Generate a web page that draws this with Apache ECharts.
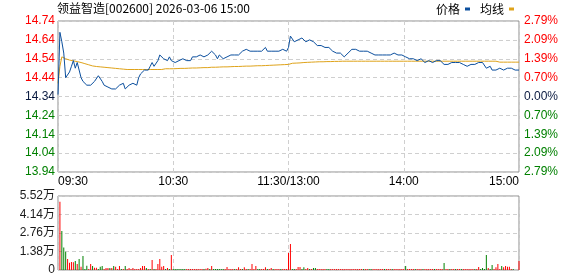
<!DOCTYPE html>
<html><head><meta charset="utf-8">
<script src="https://cdn.jsdelivr.net/npm/echarts@6/dist/echarts.min.js"></script>
<style>html,body{margin:0;padding:0;background:#fff}#c{width:578px;height:276px}</style>
</head><body><div id="c"></div>
<script>
const titleText = '领益智造[002600] 2026-03-06 15:00';
const seriesNames = ['价格', '均线'];
const timeLabels = ['09:30', '10:30', '11:30/13:00', '14:00', '15:00'];
const priceTicks = ['13.94', '14.04', '14.14', '14.24', '14.34', '14.44', '14.54', '14.64', '14.74'];
const pctTicks = ['2.79%', '2.09%', '1.39%', '0.70%', '0.00%', '0.70%', '1.39%', '2.09%', '2.79%'];
const volTicks = ['0', '1.38万', '2.76万', '4.14万', '5.52万'];
const prevClose = 14.34;

// price per minute (0 = 09:30, 120 = 11:30/13:00, 240 = 15:00)
const price = [
14.35,14.68,14.63,14.57,14.44,14.43,14.47,14.50,14.53,14.49,
14.52,14.52,14.44,14.42,14.41,14.40,14.41,14.40,14.40,14.42,
14.43,14.45,14.44,14.42,14.40,14.40,14.39,14.38,14.38,14.37,
14.38,14.38,14.40,14.39,14.41,14.38,14.39,14.40,14.40,14.41,
14.40,14.40,14.44,14.46,14.47,14.48,14.49,14.48,14.50,14.52,
14.50,14.50,14.53,14.56,14.56,14.54,14.54,14.53,14.55,14.53,
14.54,14.52,14.53,14.53,14.53,14.54,14.53,14.53,14.53,14.53,
14.55,14.54,14.55,14.56,14.56,14.56,14.55,14.56,14.56,14.57,
14.58,14.57,14.56,14.54,14.56,14.56,14.54,14.53,14.55,14.55,
14.56,14.57,14.56,14.56,14.56,14.56,14.58,14.59,14.59,14.58,
14.58,14.59,14.58,14.58,14.58,14.57,14.58,14.59,14.60,14.58,
14.58,14.58,14.59,14.58,14.57,14.58,14.59,14.59,14.58,14.58,
14.60,14.66,14.65,14.63,14.63,14.64,14.65,14.65,14.64,14.63,
14.62,14.64,14.64,14.63,14.62,14.61,14.61,14.61,14.60,14.60,
14.60,14.60,14.59,14.58,14.57,14.57,14.57,14.57,14.56,14.55,
14.55,14.57,14.56,14.59,14.59,14.59,14.58,14.58,14.58,14.58,
14.57,14.58,14.58,14.57,14.58,14.56,14.56,14.56,14.56,14.56,
14.57,14.56,14.56,14.56,14.57,14.57,14.56,14.56,14.56,14.56,
14.57,14.55,14.54,14.54,14.54,14.54,14.53,14.53,14.54,14.54,
14.53,14.52,14.52,14.53,14.52,14.52,14.52,14.53,14.53,14.53,
14.53,14.51,14.52,14.51,14.52,14.52,14.51,14.52,14.52,14.52,
14.51,14.51,14.50,14.50,14.50,14.51,14.51,14.51,14.51,14.52,
14.52,14.52,14.51,14.49,14.49,14.50,14.48,14.48,14.48,14.48,
14.49,14.49,14.48,14.49,14.49,14.49,14.49,14.48,14.48,14.48,14.48
];

const avgPrice = [
14.41,14.50,14.55,14.545,14.54,14.535,14.533,14.531,14.529,14.527,
14.525,14.523,14.520,14.517,14.514,14.511,14.508,14.505,14.502,14.500,
14.499,14.498,14.497,14.496,14.495,14.494,14.493,14.492,14.491,14.490,
14.489,14.488,14.487,14.486,14.485,14.484,14.483,14.483,14.483,14.483,
14.483,14.483,14.483,14.483,14.483,14.483,14.483,14.483,14.483,14.483,
14.483,14.483,14.483,14.483,14.483,14.487,14.487,14.487,14.487,14.487,
14.487,14.487,14.488,14.488,14.489,14.489,14.489,14.490,14.490,14.490,
14.491,14.491,14.491,14.492,14.492,14.492,14.493,14.493,14.493,14.494,
14.495,14.495,14.495,14.496,14.496,14.496,14.497,14.497,14.497,14.498,
14.498,14.498,14.499,14.499,14.499,14.500,14.500,14.500,14.501,14.501,
14.501,14.502,14.502,14.502,14.503,14.503,14.503,14.504,14.504,14.504,
14.505,14.506,14.506,14.507,14.507,14.508,14.508,14.509,14.509,14.510,
14.510,14.515,14.516,14.517,14.517,14.518,14.518,14.519,14.520,14.521,
14.521,14.522,14.522,14.523,14.523,14.523,14.524,14.524,14.524,14.525,
14.525,14.525,14.525,14.526,14.526,14.526,14.526,14.526,14.527,14.527,
14.527,14.527,14.527,14.527,14.527,14.527,14.527,14.527,14.527,14.527,
14.527,14.527,14.527,14.527,14.527,14.527,14.527,14.527,14.527,14.527,
14.527,14.527,14.527,14.527,14.527,14.527,14.527,14.527,14.527,14.527,
14.527,14.527,14.527,14.527,14.527,14.527,14.527,14.527,14.527,14.527,
14.527,14.527,14.527,14.527,14.527,14.527,14.527,14.527,14.527,14.527,
14.527,14.527,14.527,14.527,14.527,14.527,14.527,14.527,14.527,14.527,
14.527,14.527,14.527,14.527,14.527,14.527,14.527,14.527,14.527,14.527,
14.527,14.527,14.527,14.527,14.527,14.527,14.527,14.527,14.527,14.527,
14.522,14.522,14.522,14.522,14.522,14.522,14.522,14.522,14.522,14.522,14.522
];

// volume per minute, in 万 (10k shares)
const volume = [
0,5.10,2.91,1.67,1.37,0.82,0.55,0.60,0.57,0.67,
0.45,0.82,0.25,1.04,0.07,0.32,0.07,0.45,0.30,0.17,
0.17,0.07,0.25,0.30,0.07,0.15,0.15,0.15,0.15,0.30,
0.25,0.07,0.30,0.07,0.07,0.30,0.07,0.15,0.07,0.15,
0.07,0.07,0.07,0.15,0.30,0.30,0.15,0.07,0.07,0.75,
0.07,0.07,0.45,0.82,0.25,0.30,0.07,0.15,0.07,1.12,
0.07,0.07,0.07,0.07,0.07,0.07,0.07,0.07,0.07,0.07,
0.07,0.07,0.07,0.07,0.07,0.07,0.07,0.10,0.15,0.07,
0.30,0.07,0.07,0.07,0.07,0.07,0.07,0.07,0.22,0.07,
0.07,0.07,0.07,0.07,0.20,0.07,0.07,0.20,0.07,0.07,
0.07,0.45,0.07,0.30,0.07,0.07,0.07,0.07,0.20,0.07,
0.07,0.15,0.07,0.07,0.07,0.07,0.07,0.07,0.07,0.07,
1.27,1.94,0.07,0.07,0.07,0.22,0.22,0.07,0.20,0.07,
0.15,0.07,0.07,0.15,0.15,0.07,0.07,0.07,0.07,0.07,
0.07,0.07,0.07,0.07,0.07,0.07,0.07,0.07,0.07,0.07,
0.07,0.07,0.07,0.07,0.07,0.07,0.07,0.07,0.07,0.07,
0.07,0.07,0.07,0.07,0.07,0.07,0.07,0.07,0.07,0.07,
0.07,0.07,0.07,0.07,0.07,0.07,0.07,0.07,0.07,0.07,
0.07,0.30,0.07,0.07,0.07,0.07,0.07,0.07,0.07,0.07,
0.07,0.07,0.07,0.07,0.07,0.07,0.07,0.07,0.07,0.07,
0.07,0.52,0.07,0.07,0.07,0.07,0.07,0.07,0.07,0.07,
0.07,0.07,0.07,0.07,0.07,0.07,0.07,0.07,0.07,0.22,
0.07,0.15,0.07,1.12,0.15,0.07,0.37,0.07,0.20,0.45,
0.07,0.30,0.20,0.30,0.25,0.25,0.07,0.07,0,0,0.67
];

// 1 = up (red), 0 = down (green)
const volumeUp = [
1,1,0,0,0,1,1,1,1,0,
1,0,1,0,0,0,1,1,0,1,
1,0,0,0,1,1,1,0,1,0,
1,1,1,0,1,0,1,1,1,1,
1,1,1,1,1,1,0,1,0,1,
0,1,1,1,1,1,0,1,0,1,
0,0,0,0,0,0,0,1,1,1,
1,1,1,1,1,1,0,1,1,0,
1,0,0,0,0,0,0,1,1,1,
1,1,0,1,1,1,0,1,1,0,
1,1,1,1,0,0,1,1,1,0,
1,1,0,1,1,1,0,1,1,1,
1,1,0,0,1,1,1,0,0,1,
1,0,1,0,0,1,1,1,1,1,
0,0,1,1,1,1,1,1,1,1,
1,1,1,1,1,1,1,1,1,0,
1,1,0,0,1,1,1,1,1,1,
0,1,1,1,0,1,1,1,1,1,
1,0,1,1,1,1,0,1,1,1,
0,1,1,1,1,1,0,1,1,1,
1,0,1,1,0,1,1,0,1,1,
0,1,1,1,1,1,1,0,1,1,
0,0,0,0,1,0,0,1,1,1,
1,0,1,1,1,1,1,0,1,1,1
];

const UP = '#ff0000', DOWN = '#008000', FLAT = '#0a1a40';
const LINE_BLUE = '#0b4f9e', LINE_AVG = '#dfa31a';
const FONT = '"Liberation Sans", Arial, "Noto Sans CJK SC", sans-serif';
const CJK = '"Noto Sans CJK SC", "Liberation Sans", sans-serif';
const splitStyle = { show: true, lineStyle: { color: '#cfcfcf', width: 1, type: [4, 3] } };
const priceIdx = v => Math.round((Number(v) - 13.94) / 0.1);
const priceColor = v => { const d = Number(v) - prevClose; return d > 0.001 ? UP : (d < -0.001 ? DOWN : FLAT); };

const chart = echarts.init(document.getElementById('c'), null, { renderer: 'canvas' });
chart.setOption({
  animation: false,
  backgroundColor: '#fff',
  title: {
    text: titleText, left: 57, top: 2, padding: 0,
    textStyle: { fontSize: 12, fontWeight: 'normal', color: '#000', fontFamily: CJK }
  },
  legend: {
    data: seriesNames, right: 64, top: 3, padding: 0, align: 'right',
    icon: 'rect', itemWidth: 5, itemHeight: 3, itemGap: 10,
    textStyle: { fontSize: 12, color: '#000', fontFamily: CJK }
  },
  grid: [
    { left: 58, right: 59, top: 21, height: 151, show: true, borderColor: '#8e8e8e', borderWidth: 1, containLabel: false },
    { left: 58, right: 59, top: 196, height: 74, show: true, borderColor: '#8e8e8e', borderWidth: 1, containLabel: false }
  ],
  xAxis: [
    {
      type: 'value', gridIndex: 0, min: 0, max: 240, interval: 60,
      axisLine: { show: false }, axisTick: { show: false }, splitLine: splitStyle,
      axisLabel: {
        formatter: v => timeLabels[Math.round(v / 60)], color: '#000', fontSize: 12, fontFamily: FONT,
        margin: 4, alignMinLabel: 'left', alignMaxLabel: 'right'
      }
    },
    {
      type: 'value', gridIndex: 1, min: 0, max: 240, interval: 60,
      axisLine: { show: false }, axisTick: { show: false }, splitLine: splitStyle,
      axisLabel: { show: false }
    }
  ],
  yAxis: [
    {
      type: 'value', gridIndex: 0, min: 13.94, max: 14.74, interval: 0.1,
      axisLine: { show: false }, axisTick: { show: false }, splitLine: splitStyle,
      axisLabel: { formatter: v => priceTicks[priceIdx(v)], color: priceColor, fontSize: 12, fontFamily: FONT, margin: 3 }
    },
    {
      type: 'value', gridIndex: 0, position: 'right', min: 13.94, max: 14.74, interval: 0.1,
      axisLine: { show: false }, axisTick: { show: false }, splitLine: { show: false },
      axisLabel: { formatter: v => pctTicks[priceIdx(v)], color: priceColor, fontSize: 12, fontFamily: FONT, margin: 5 }
    },
    {
      type: 'value', gridIndex: 1, min: 0, max: 5.52, interval: 1.38,
      axisLine: { show: false }, axisTick: { show: false }, splitLine: splitStyle,
      axisLabel: { formatter: v => volTicks[Math.round(Number(v) / 1.38)], color: '#1a1a1a', fontSize: 12, fontFamily: FONT, margin: 3 }
    }
  ],
  series: [
    {
      name: seriesNames[1], type: 'line', xAxisIndex: 0, yAxisIndex: 0,
      data: avgPrice.map((v, i) => [i, v]), symbol: 'none', smooth: false,
      lineStyle: { color: LINE_AVG, width: 1 }, itemStyle: { color: LINE_AVG }, z: 3
    },
    {
      name: seriesNames[0], type: 'line', xAxisIndex: 0, yAxisIndex: 0,
      data: price.map((v, i) => [i, v]), symbol: 'none', smooth: false,
      lineStyle: { color: LINE_BLUE, width: 1 }, itemStyle: { color: LINE_BLUE }, z: 4
    },
    {
      name: 'vol', type: 'bar', xAxisIndex: 1, yAxisIndex: 2, barWidth: 1,
      data: volume.map((v, i) => ({ value: [i, v], itemStyle: { color: volumeUp[i] ? UP : DOWN } })),
      z: 2
    }
  ]
});
</script>
</body></html>
